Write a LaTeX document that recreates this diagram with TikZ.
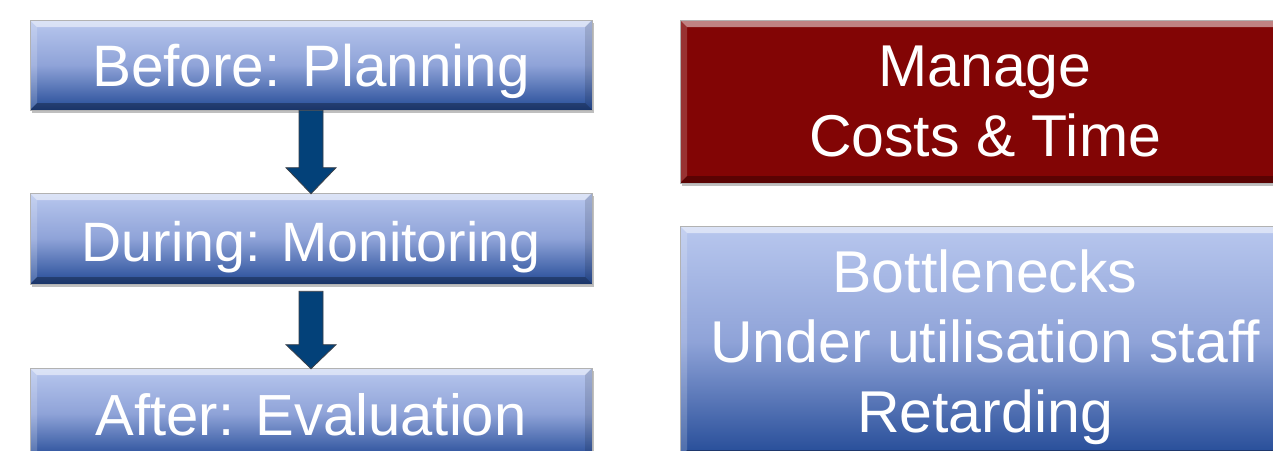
\documentclass[tikz,border=0pt]{standalone}
\usepackage{fontspec}
\setmainfont{Liberation Sans}
\usetikzlibrary{calc,shadows}
\definecolor{btop}{HTML}{B8C7EE}
\definecolor{bmid}{HTML}{8FA3D8}
\definecolor{bbot}{HTML}{244B97}
\definecolor{rmain}{HTML}{820505}
\definecolor{rtop}{HTML}{C94A4A}
\definecolor{arrfill}{HTML}{034179}
\definecolor{arredge}{HTML}{3A3F48}
\tikzset{
  bevel/.style={path picture={
    \fill[white,opacity=0.5] (path picture bounding box.north west) -- (path picture bounding box.north east)
       -- ++(-7,-7) -- ($(path picture bounding box.north west)+(7,-7)$) -- cycle;
    \fill[white,opacity=0.18] (path picture bounding box.north west) -- ($(path picture bounding box.north west)+(7,-7)$)
       -- ($(path picture bounding box.south west)+(7,7)$) -- (path picture bounding box.south west) -- cycle;
    \fill[black,opacity=0.12] (path picture bounding box.north east) -- ($(path picture bounding box.north east)+(-7,-7)$)
       -- ($(path picture bounding box.south east)+(-7,7)$) -- (path picture bounding box.south east) -- cycle;
    \fill[black,opacity=0.3] (path picture bounding box.south west) -- (path picture bounding box.south east)
       -- ++(-7,7) -- ($(path picture bounding box.south west)+(7,7)$) -- cycle;
  }},
  bluebox/.style={bevel, rectangle, inner sep=0pt, draw=gray!60, line width=0.6pt,
    top color=btop, bottom color=bbot, middle color=bmid, text=white,
    font=\fontsize{59}{70}\selectfont,
    drop shadow={shadow xshift=2pt, shadow yshift=-3pt, opacity=0.25, fill=black}},
  leftbox/.style={bluebox, minimum width=562pt, minimum height=91pt, text height=43pt, text depth=0pt},
  redbox/.style={bevel, rectangle, inner sep=0pt, draw=gray!60, line width=0.6pt, fill=rmain, text=white,
    font=\fontsize{59}{70}\selectfont, align=center,
    drop shadow={shadow xshift=2pt, shadow yshift=-3pt, opacity=0.25, fill=black}},
  blockarrow/.style={fill=arrfill, draw=arredge, line width=0.8pt, line join=miter}
}
\begin{document}
\begin{tikzpicture}[x=1pt,y=1pt]
\useasboundingbox (0,0) rectangle (1273,-450);
\clip (0,0) rectangle (1273,-450);
\fill[white] (0,0) rectangle (1273,-450);
\node[leftbox, minimum height=90pt, font=\fontsize{58.5}{70}\selectfont] (b1) at (311,-65) {Before: Planning};
\node[leftbox, font=\fontsize{55.5}{70}\selectfont, text height=45pt] (b2) at (311,-238.5) {During: Monitoring};
\node[leftbox, font=\fontsize{58}{70}\selectfont] (b3) at (311,-413.5) {After: Evaluation};
\node[redbox, minimum width=610pt, minimum height=163pt] (r1) at (985,-101.5) {Manage\\Costs \& Time};
\node[bluebox, align=center, minimum width=610pt, minimum height=231pt] (r2) at (985,-341.5) {Bottlenecks\\Under utilisation staff\\Retardin\smash{g}};
\draw[blockarrow] ($(b1.south)+(-12,0)$) -- ($(b1.south)+(12,0)$) -- ($(b2.north)+(12,25)$) -- ($(b2.north)+(25,25)$)
   -- ($(b2.north)+(0,-1)$) -- ($(b2.north)+(-25,25)$) -- ($(b2.north)+(-12,25)$) -- cycle;
\draw[blockarrow] ($(b2.south)+(-12,-7)$) -- ($(b2.south)+(12,-7)$) -- ($(b3.north)+(12,23)$) -- ($(b3.north)+(25,23)$)
   -- ($(b3.north)+(0,-1)$) -- ($(b3.north)+(-25,23)$) -- ($(b3.north)+(-12,23)$) -- cycle;
\end{tikzpicture}
\end{document}
